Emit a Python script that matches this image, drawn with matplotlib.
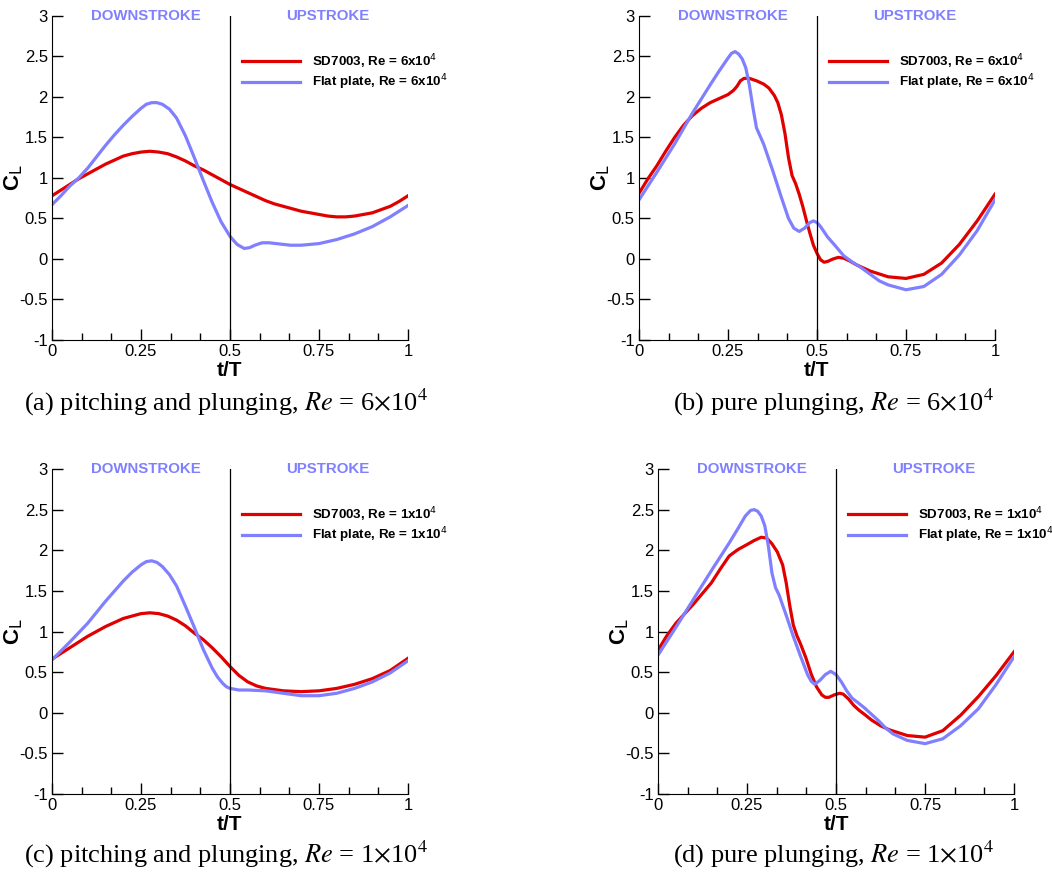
import matplotlib
matplotlib.use("Agg")
import matplotlib.pyplot as plt
from matplotlib.ticker import MultipleLocator

plt.rcParams['font.family'] = ['Liberation Sans', 'DejaVu Sans']

# (a) pitching and plunging, Re = 6x10^4
t_a_red = [0, 0.025, 0.05, 0.075, 0.1, 0.125, 0.15, 0.175, 0.2, 0.225, 0.25, 0.275, 0.3, 0.325, 0.35, 0.375, 0.4,
           0.425, 0.45, 0.475, 0.5, 0.525, 0.55, 0.575, 0.6, 0.625, 0.65, 0.675, 0.7, 0.725, 0.75, 0.775, 0.8,
           0.825, 0.85, 0.875, 0.9, 0.925, 0.95, 0.975, 1.0]
cl_a_red = [0.78, 0.85, 0.92, 0.99, 1.05, 1.11, 1.17, 1.22, 1.27, 1.30, 1.32, 1.33, 1.32, 1.30, 1.26, 1.21, 1.15,
            1.10, 1.04, 0.98, 0.92, 0.87, 0.82, 0.77, 0.72, 0.68, 0.65, 0.62, 0.59, 0.57, 0.55, 0.53, 0.52,
            0.52, 0.53, 0.55, 0.57, 0.61, 0.65, 0.71, 0.78]
t_a_blue = [0, 0.025, 0.05, 0.075, 0.1, 0.125, 0.15, 0.175, 0.2, 0.225, 0.25, 0.265, 0.28, 0.295, 0.31, 0.33, 0.35,
            0.375, 0.4, 0.425, 0.45, 0.475, 0.5, 0.52, 0.54, 0.555, 0.57, 0.59, 0.61, 0.63, 0.65, 0.67, 0.7,
            0.75, 0.8, 0.85, 0.9, 0.95, 1.0]
cl_a_blue = [0.67, 0.78, 0.9, 1.0, 1.12, 1.26, 1.40, 1.53, 1.65, 1.76, 1.86, 1.91, 1.93, 1.93, 1.91, 1.85, 1.74,
             1.52, 1.25, 0.97, 0.70, 0.46, 0.28, 0.18, 0.13, 0.14, 0.17, 0.20, 0.20, 0.19, 0.18, 0.17, 0.17,
             0.19, 0.24, 0.31, 0.40, 0.52, 0.66]

# (b) pure plunging, Re = 6x10^4
t_b_red = [0, 0.025, 0.05, 0.075, 0.1, 0.125, 0.15, 0.175, 0.2, 0.225, 0.25, 0.265, 0.275, 0.285, 0.295, 0.31,
           0.33, 0.35, 0.365, 0.38, 0.39, 0.4, 0.41, 0.42, 0.43, 0.44, 0.45, 0.46, 0.47, 0.48, 0.49, 0.5, 0.51,
           0.52, 0.53, 0.545, 0.56, 0.575, 0.59, 0.61, 0.65, 0.7, 0.75, 0.8, 0.85, 0.9, 0.95, 1.0]
cl_b_red = [0.81, 0.99, 1.15, 1.33, 1.50, 1.65, 1.77, 1.86, 1.93, 1.98, 2.03, 2.08, 2.13, 2.20, 2.23, 2.23,
            2.20, 2.16, 2.11, 2.02, 1.93, 1.78, 1.55, 1.25, 1.03, 0.93, 0.80, 0.65, 0.48, 0.32, 0.17, 0.07, -0.01,
            -0.04, -0.03, 0.0, 0.02, 0.01, -0.02, -0.07, -0.15, -0.22, -0.24, -0.19, -0.05, 0.18, 0.47, 0.80]
t_b_blue = [0, 0.05, 0.1, 0.15, 0.2, 0.225, 0.25, 0.26, 0.27, 0.28, 0.29, 0.3, 0.31, 0.32, 0.33, 0.34, 0.35,
            0.375, 0.4, 0.42, 0.435, 0.45, 0.465, 0.48, 0.49, 0.5, 0.51, 0.53, 0.55, 0.575, 0.6, 0.625, 0.65,
            0.675, 0.7, 0.75, 0.8, 0.85, 0.9, 0.95, 1.0]
cl_b_blue = [0.73, 1.07, 1.42, 1.80, 2.15, 2.32, 2.48, 2.54, 2.56, 2.53, 2.47, 2.36, 2.15, 1.87, 1.62, 1.52, 1.42,
             1.10, 0.76, 0.50, 0.38, 0.34, 0.38, 0.45, 0.47, 0.45, 0.40, 0.27, 0.17, 0.04, -0.04, -0.11, -0.19,
             -0.27, -0.32, -0.38, -0.34, -0.19, 0.05, 0.35, 0.73]

# (c) pitching and plunging, Re = 1x10^4
t_c_red = [0, 0.05, 0.1, 0.15, 0.2, 0.225, 0.25, 0.275, 0.3, 0.325, 0.35, 0.375, 0.4, 0.425, 0.45, 0.475, 0.5,
           0.525, 0.55, 0.575, 0.6, 0.65, 0.7, 0.75, 0.8, 0.85, 0.9, 0.95, 1.0]
cl_c_red = [0.66, 0.80, 0.94, 1.06, 1.16, 1.19, 1.22, 1.23, 1.22, 1.19, 1.14, 1.07, 0.98, 0.90, 0.80, 0.69, 0.57,
            0.46, 0.38, 0.33, 0.30, 0.27, 0.26, 0.27, 0.30, 0.35, 0.42, 0.52, 0.67]
t_c_blue = [0, 0.05, 0.1, 0.15, 0.2, 0.225, 0.25, 0.265, 0.28, 0.295, 0.31, 0.33, 0.35, 0.375, 0.4, 0.425, 0.45,
            0.465, 0.48, 0.49, 0.5, 0.525, 0.55, 0.6, 0.65, 0.7, 0.75, 0.8, 0.85, 0.9, 0.95, 1.0]
cl_c_blue = [0.65, 0.87, 1.10, 1.37, 1.62, 1.73, 1.82, 1.86, 1.87, 1.85, 1.80, 1.70, 1.56, 1.31, 1.05, 0.78, 0.55,
             0.44, 0.36, 0.32, 0.30, 0.28, 0.28, 0.27, 0.24, 0.21, 0.21, 0.24, 0.30, 0.38, 0.49, 0.64]

# (d) pure plunging, Re = 1x10^4
t_d_red = [0, 0.025, 0.05, 0.075, 0.1, 0.125, 0.15, 0.175, 0.2, 0.225, 0.25, 0.27, 0.29, 0.305, 0.32, 0.335, 0.35,
           0.36, 0.37, 0.38, 0.39, 0.4, 0.415, 0.43, 0.445, 0.46, 0.47, 0.48, 0.495, 0.51, 0.52, 0.535, 0.55,
           0.565, 0.58, 0.6, 0.625, 0.65, 0.7, 0.75, 0.8, 0.85, 0.9, 0.95, 1.0]
cl_d_red = [0.77, 0.95, 1.10, 1.22, 1.34, 1.47, 1.60, 1.77, 1.93, 2.01, 2.07, 2.12, 2.16, 2.15, 2.08, 1.98, 1.82,
            1.60, 1.32, 1.08, 0.95, 0.85, 0.68, 0.48, 0.32, 0.22, 0.19, 0.19, 0.22, 0.24, 0.23, 0.17, 0.09,
            0.03, -0.02, -0.09, -0.16, -0.21, -0.28, -0.30, -0.22, -0.03, 0.20, 0.46, 0.75]
t_d_blue = [0, 0.05, 0.1, 0.15, 0.2, 0.225, 0.245, 0.26, 0.27, 0.28, 0.29, 0.3, 0.31, 0.32, 0.33, 0.34, 0.36,
            0.38, 0.4, 0.42, 0.43, 0.44, 0.455, 0.47, 0.485, 0.5, 0.515, 0.53, 0.545, 0.56, 0.58, 0.6, 0.62,
            0.64, 0.66, 0.7, 0.75, 0.8, 0.85, 0.9, 0.95, 1.0]
cl_d_blue = [0.71, 1.05, 1.40, 1.75, 2.09, 2.27, 2.42, 2.49, 2.50, 2.48, 2.42, 2.30, 2.05, 1.72, 1.54, 1.45, 1.20,
             0.94, 0.70, 0.47, 0.39, 0.35, 0.40, 0.47, 0.51, 0.47, 0.38, 0.27, 0.18, 0.13, 0.06, -0.02, -0.10,
             -0.19, -0.26, -0.34, -0.38, -0.32, -0.16, 0.05, 0.35, 0.69]

panels = [
    ([0.0494, 0.611, 0.3384, 0.3707], t_a_red, cl_a_red, t_a_blue, cl_a_blue, "6", "(a) pitching and plunging, ", 0.215, 0.539),
    ([0.6074, 0.611, 0.3384, 0.3707], t_b_red, cl_b_red, t_b_blue, cl_b_blue, "6", "(b) pure plunging, ", 0.792, 0.539),
    ([0.0494, 0.0915, 0.3384, 0.3719], t_c_red, cl_c_red, t_c_blue, cl_c_blue, "1", "(c) pitching and plunging, ", 0.215, 0.022),
    ([0.6255, 0.0915, 0.3384, 0.3719], t_d_red, cl_d_red, t_d_blue, cl_d_blue, "1", "(d) pure plunging, ", 0.792, 0.022),
]

red = '#e00000'
blue = '#8080ff'

fig = plt.figure(figsize=(10.52, 8.74), dpi=100)

for rect, tr, cr, tb, cb, re, cap, cx, cy in panels:
    ax = fig.add_axes(rect)
    ax.plot(tr, cr, color=red, lw=2.3, label='SD7003, Re = %sx10$^4$' % re)
    ax.plot(tb, cb, color=blue, lw=2.3, label='Flat plate, Re = %sx10$^4$' % re)
    ax.axvline(0.5, color='black', lw=0.9)
    ax.set_xlim(0, 1)
    ax.set_ylim(-1, 3)
    ax.spines['top'].set_visible(False)
    ax.spines['right'].set_visible(False)
    ax.set_xticks([0, 0.25, 0.5, 0.75, 1])
    ax.set_xticklabels(['0', '0.25', '0.5', '0.75', '1'])
    ax.xaxis.set_minor_locator(MultipleLocator(1 / 12))
    ax.yaxis.set_major_locator(MultipleLocator(0.5))
    ax.set_yticklabels([('%g' % v) for v in ax.get_yticks()])
    ax.tick_params(direction='in', length=8, width=1, labelsize=12, pad=3)
    ax.tick_params(which='minor', direction='in', length=5, width=1)
    ax.set_xlabel('t/T', fontsize=15, fontweight='bold', labelpad=1)
    ax.set_ylabel(r'C$_{\rm L}$', fontsize=16, fontweight='bold')
    ax.yaxis.set_label_coords(-0.075, 0.5)
    ax.text(0.265, 3, 'DOWNSTROKE', color=blue, fontsize=10.8, fontweight='bold',
            ha='center', va='center')
    ax.text(0.775, 3, 'UPSTROKE', color=blue, fontsize=10.8, fontweight='bold',
            ha='center', va='center')
    ax.legend(loc='upper left', bbox_to_anchor=(0.52, 0.905), frameon=False,
              prop={'size': 9.6, 'weight': 'bold'}, handlelength=4.3, handletextpad=0.9,
              labelspacing=0.12, borderaxespad=0)
    fig.text(cx, cy, cap + r'$Re$ = 6$\times$10$^4$'.replace('6', re),
             fontsize=19, family='Liberation Serif', math_fontfamily='stix',
             ha='center', va='center')

fig.savefig('out.png', dpi=100)
